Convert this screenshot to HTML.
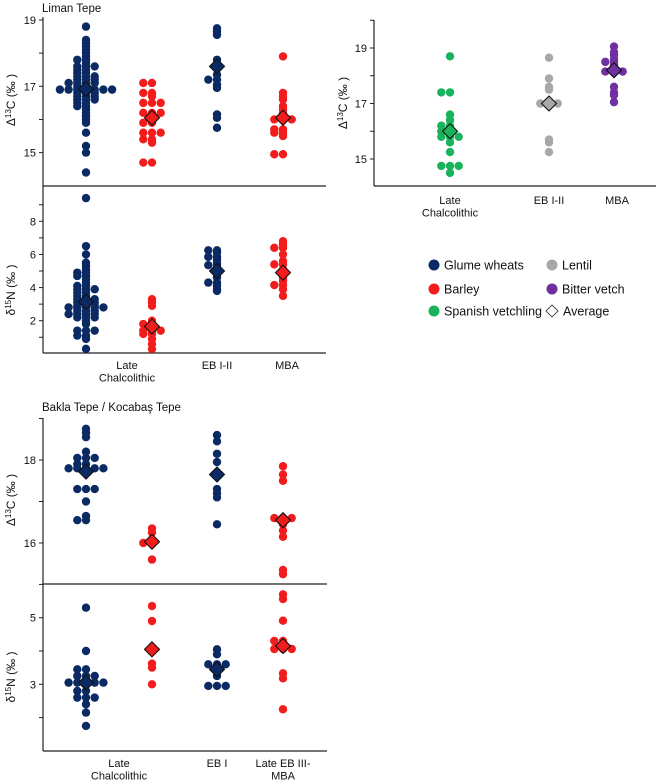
<!DOCTYPE html>
<html><head><meta charset="utf-8"><style>
body{margin:0;background:#fff;}
svg{display:block;font-family:"Liberation Sans",Arial,sans-serif;}
text{fill:#111;}
</style></head><body>
<svg id="c" width="660" height="781" viewBox="0 0 660 781"></svg>
<script>
// ---- Data ----
const ltCatLabels = ["Late Chalcolithic","EB I-II","MBA"];
const ltC13GlumeLC = [18.8,18.4,18.3,18.2,18.1,18.0,17.9,17.8,17.8,17.7,17.6,17.6,17.6,17.5,17.5,17.4,17.4,17.3,17.3,17.3,17.2,17.2,17.2,17.1,17.1,17.1,17.1,17.0,17.0,16.9,16.9,16.9,16.9,16.9,16.9,16.9,16.8,16.8,16.8,16.7,16.7,16.7,16.6,16.6,16.6,16.5,16.5,16.4,16.4,16.3,16.2,16.1,16.0,15.9,15.6,15.2,15.0,14.4];
const ltC13BarleyLC = [17.1,17.1,16.8,16.8,16.7,16.5,16.5,16.5,16.2,16.2,16.2,16.1,15.9,15.9,15.6,15.6,15.6,15.4,15.4,15.3,14.7,14.7];
const ltC13GlumeEB = [18.75,18.65,18.55,17.8,17.65,17.55,17.35,17.2,17.2,17.05,16.95,16.15,16.05,15.75];
const ltC13BarleyMBA = [17.9,16.8,16.7,16.6,16.4,16.3,16.2,16.1,16.0,16.0,16.0,15.7,15.7,15.6,15.6,15.5,14.95,14.95];
const ltC13Means = [16.92,16.05,17.6,16.05];
const ltN15GlumeLC = [9.4,6.5,6.0,5.5,5.3,5.1,4.9,4.9,4.7,4.7,4.5,4.3,4.1,4.1,3.9,3.9,3.9,3.7,3.7,3.5,3.5,3.3,3.3,3.3,3.1,3.1,3.1,2.9,2.9,2.9,2.8,2.8,2.8,2.8,2.8,2.6,2.6,2.6,2.4,2.4,2.4,2.4,2.2,2.2,2.2,2.0,1.8,1.4,1.4,1.4,1.1,1.1,0.9,0.3];
const ltN15BarleyLC = [3.3,3.1,2.9,2.0,1.8,1.8,1.6,1.4,1.4,1.4,1.2,1.2,0.9,0.6,0.3];
const ltN15GlumeEB = [6.25,6.25,6.1,5.85,5.85,5.7,5.5,5.35,5.35,5.2,4.8,4.6,4.3,4.3,4.1,3.9,3.8];
const ltN15BarleyMBA = [6.8,6.6,6.4,6.4,6.0,5.6,5.4,5.4,5.1,4.8,4.6,4.4,4.15,4.15,3.9,3.5];
const ltN15Means = [3.15,1.65,5.0,4.9];
const rpCatLabels = ["Late Chalcolithic","EB I-II","MBA"];
const rpGreen = [18.7,17.4,17.4,16.6,16.4,16.2,16.2,16.0,16.0,15.8,15.8,15.8,15.6,15.25,14.75,14.75,14.75,14.5];
const rpGrey = [18.65,17.9,17.6,17.5,17.0,17.0,17.0,15.7,15.6,15.25];
const rpPurple = [19.05,18.85,18.75,18.6,18.5,18.5,18.4,18.15,18.15,18.15,17.6,17.4,17.3,17.05];
const rpMeans = [16.0,17.0,18.2];
const bkCatLabels = ["Late Chalcolithic","EB I","Late EB III-MBA"];
const bkC13GlumeLC = [18.75,18.65,18.55,18.2,18.05,18.05,18.05,17.9,17.9,17.8,17.8,17.8,17.8,17.8,17.3,17.3,17.3,17.0,16.65,16.55,16.55];
const bkC13BarleyLC = [16.35,16.25,16.0,16.0,15.6];
const bkC13GlumeEB = [18.6,18.45,18.15,17.95,17.65,17.3,17.2,17.1,16.45];
const bkC13BarleyMBA = [17.85,17.65,17.5,16.6,16.6,16.6,16.45,16.3,16.15,15.35,15.25];
const bkC13Means = [17.72,16.03,17.65,16.55];
const bkN15GlumeLC = [5.3,4.0,3.45,3.45,3.25,3.25,3.25,3.05,3.05,3.05,3.05,3.05,2.8,2.8,2.6,2.6,2.6,2.4,2.15,1.75];
const bkN15BarleyLC = [5.35,4.9,3.62,3.5,3.0];
const bkN15GlumeEB = [4.05,3.9,3.6,3.6,3.6,3.25,2.95,2.95,2.95];
const bkN15BarleyMBA = [5.7,5.56,4.91,4.3,4.3,4.06,4.06,4.06,3.33,3.18,2.25];
const bkN15Means = [3.05,4.05,3.45,4.15];

const NAVY="#0b2a63", RED="#f21c1c", GREEN="#18b35a", GREY="#a8a8a8", PURPLE="#7030a0";
const svg=document.getElementById('c');
const NS="http://www.w3.org/2000/svg";
function el(tag,attrs,parent){const e=document.createElementNS(NS,tag);for(const k in attrs)e.setAttribute(k,attrs[k]);(parent||svg).appendChild(e);return e;}
function lin(v0,p0,v1,p1){return v=>p0+(v-v0)*(p1-p0)/(v1-v0);}

function swarm(vals,cx,ys,color,name,dx){
  const g=el('g',{});
  
  
  const bins={};
  vals.forEach(v=>{
    const k=Math.round(v*10);
    const n=bins[k]||0; bins[k]=n+1;
    const off=n===0?0:(n%2?-(n+1)/2:n/2);
    const c=el('circle',{cx:cx+off*dx,cy:ys(v),r:4.2,fill:color},g);
    
    
  });
}
function diamond(cx,v,ys,color){
  const y=ys(v),s=7.5;
  const p=el('polygon',{points:`${cx},${y-s} ${cx+s},${y} ${cx},${y+s} ${cx-s},${y}`,fill:color,stroke:"#111","stroke-width":1.1});
  
  
}
function yAxis(x,yTop,yBot,ys,ticks,labels,name){
  const l=el('line',{x1:x,y1:yTop,x2:x,y2:yBot,stroke:"#222","stroke-width":1.2});
  
  
  ticks.forEach(t=>{el('line',{x1:x-4,y1:ys(t),x2:x,y2:ys(t),stroke:"#222","stroke-width":1});});
  labels.forEach(t=>{const tx=el('text',{x:x-7,y:ys(t)+4,"text-anchor":"end","font-size":11});tx.textContent=t;
    
    });
}
function hline(x1,x2,y,name){const l=el('line',{x1:x1,y1:y,x2:x2,y2:y,stroke:"#222","stroke-width":1.2});
  
  }
function ylabel(x,y,iso,elem,name){
  const t=el('text',{x:0,y:0,transform:`translate(${x},${y}) rotate(-90)`,"text-anchor":"middle","font-size":12});
  
  
  t.innerHTML=`${iso==='C'?'Δ':'δ'}<tspan dy="-4" font-size="8">${elem}</tspan><tspan dy="4">${iso} (‰ )</tspan>`;
}
function text(x,y,s,size,anchor,name){const t=el('text',{x:x,y:y,"font-size":size,"text-anchor":anchor||"middle"});t.textContent=s;
  
  return t;}
function catLabel(x,y,s){
  const parts=s==="Late Chalcolithic"?["Late","Chalcolithic"]:s==="Late EB III-MBA"?["Late EB III-","MBA"]:[s];
  parts.forEach((p,i)=>text(x,y+i*12.5,p,11,"middle","x-category-label"));
}

// ---- Liman Tepe ----
const ltX=[86,152,217,283];
const ysLC=lin(19,20,17,86.3);
const ysLN=lin(8,221.3,2,320.7);
text(42,12,"Liman Tepe",11.5,"start","liman-tepe-title");
yAxis(43,17,186,ysLC,[19,18,17,16,15],[19,17,15],"liman-c13-y-axis");
hline(43,326,186,"liman-panel-divider");
yAxis(43,186,353,ysLN,[9,8,7,6,5,4,3,2,1],[8,6,4,2],"liman-n15-y-axis");
hline(43,326,353,"liman-x-axis");
ylabel(15,100,'C','13',"liman-c13-y-title");
ylabel(15,290,'N','15',"liman-n15-y-title");
swarm(ltC13GlumeLC,ltX[0],ysLC,NAVY,"liman-c13-glume-lc",8.7);
swarm(ltC13BarleyLC,ltX[1],ysLC,RED,"liman-c13-barley-lc",8.7);
swarm(ltC13GlumeEB,ltX[2],ysLC,NAVY,"liman-c13-glume-eb",8.7);
swarm(ltC13BarleyMBA,ltX[3],ysLC,RED,"liman-c13-barley-mba",8.7);
swarm(ltN15GlumeLC,ltX[0],ysLN,NAVY,"liman-n15-glume-lc",8.7);
swarm(ltN15BarleyLC,ltX[1],ysLN,RED,"liman-n15-barley-lc",8.7);
swarm(ltN15GlumeEB,ltX[2],ysLN,NAVY,"liman-n15-glume-eb",8.7);
swarm(ltN15BarleyMBA,ltX[3],ysLN,RED,"liman-n15-barley-mba",8.7);
[NAVY,RED,NAVY,RED].forEach((c,i)=>{diamond(ltX[i],ltC13Means[i],ysLC,c);diamond(ltX[i],ltN15Means[i],ysLN,c);});
catLabel(127,369,ltCatLabels[0]);catLabel(217,369,ltCatLabels[1]);catLabel(287,369,ltCatLabels[2]);

// ---- Right panel (legumes) ----
const rpX=[450,549,614];
const ysR=lin(19,48,15,159);
yAxis(374,20,186,ysR,[20,19,18,17,16,15],[19,17,15],"legume-y-axis");
hline(374,656,186,"legume-x-axis");
ylabel(347,103,'C','13',"legume-y-title");
swarm(rpGreen,rpX[0],ysR,GREEN,"spanish-vetchling-lc",8.7);
swarm(rpGrey,rpX[1],ysR,GREY,"lentil-eb",8.7);
swarm(rpPurple,rpX[2],ysR,PURPLE,"bitter-vetch-mba",8.7);
[GREEN,GREY,PURPLE].forEach((c,i)=>diamond(rpX[i],rpMeans[i],ysR,c));
catLabel(450,204,rpCatLabels[0]);catLabel(549,204,rpCatLabels[1]);catLabel(617,204,rpCatLabels[2]);

// ---- Legend ----
const legItems=[["Glume wheats",NAVY,434,265],["Barley",RED,434,289],["Spanish vetchling",GREEN,434,311],["Lentil",GREY,552,265],["Bitter vetch",PURPLE,552,289]];
legItems.forEach(([lab,col,x,y])=>{
  const g=el('g',{});
  
  
  el('circle',{cx:x,cy:y,r:5.5,fill:col},g);
  const t=el('text',{x:x+10,y:y+4.5,"font-size":12.5},g);t.textContent=lab;
});
{
  const g=el('g',{});
  
  
  el('polygon',{points:"552,305 558,311 552,317 546,311",fill:"#fff",stroke:"#444","stroke-width":0.9},g);
  const t=el('text',{x:563,y:315.5,"font-size":12.5},g);t.textContent="Average";
}

// ---- Bakla Tepe / Kocabaş Tepe ----
const bkX=[86,152,217,283];
const ysBC=lin(18,460,16,543);
const ysBN=lin(5,617.7,3,684.3);
text(42,411,"Bakla Tepe / Kocabaş Tepe",11.5,"start","bakla-tepe-title");
yAxis(43,418,584,ysBC,[19,18,17,16],[18,16],"bakla-c13-y-axis");
hline(43,327,584,"bakla-panel-divider");
yAxis(43,584,751,ysBN,[6,5,4,3,2],[5,3],"bakla-n15-y-axis");
hline(43,327,751,"bakla-x-axis");
ylabel(15,500,'C','13',"bakla-c13-y-title");
ylabel(15,677,'N','15',"bakla-n15-y-title");
swarm(bkC13GlumeLC,bkX[0],ysBC,NAVY,"bakla-c13-glume-lc",8.7);
swarm(bkC13BarleyLC,bkX[1],ysBC,RED,"bakla-c13-barley-lc",8.7);
swarm(bkC13GlumeEB,bkX[2],ysBC,NAVY,"bakla-c13-glume-eb",8.7);
swarm(bkC13BarleyMBA,bkX[3],ysBC,RED,"bakla-c13-barley-mba",8.7);
swarm(bkN15GlumeLC,bkX[0],ysBN,NAVY,"bakla-n15-glume-lc",8.7);
swarm(bkN15BarleyLC,bkX[1],ysBN,RED,"bakla-n15-barley-lc",8.7);
swarm(bkN15GlumeEB,bkX[2],ysBN,NAVY,"bakla-n15-glume-eb",8.7);
swarm(bkN15BarleyMBA,bkX[3],ysBN,RED,"bakla-n15-barley-mba",8.7);
[NAVY,RED,NAVY,RED].forEach((c,i)=>{diamond(bkX[i],bkC13Means[i],ysBC,c);diamond(bkX[i],bkN15Means[i],ysBN,c);});
catLabel(119,767,bkCatLabels[0]);catLabel(217,767,bkCatLabels[1]);catLabel(283,767,bkCatLabels[2]);
</script>
</body></html>
